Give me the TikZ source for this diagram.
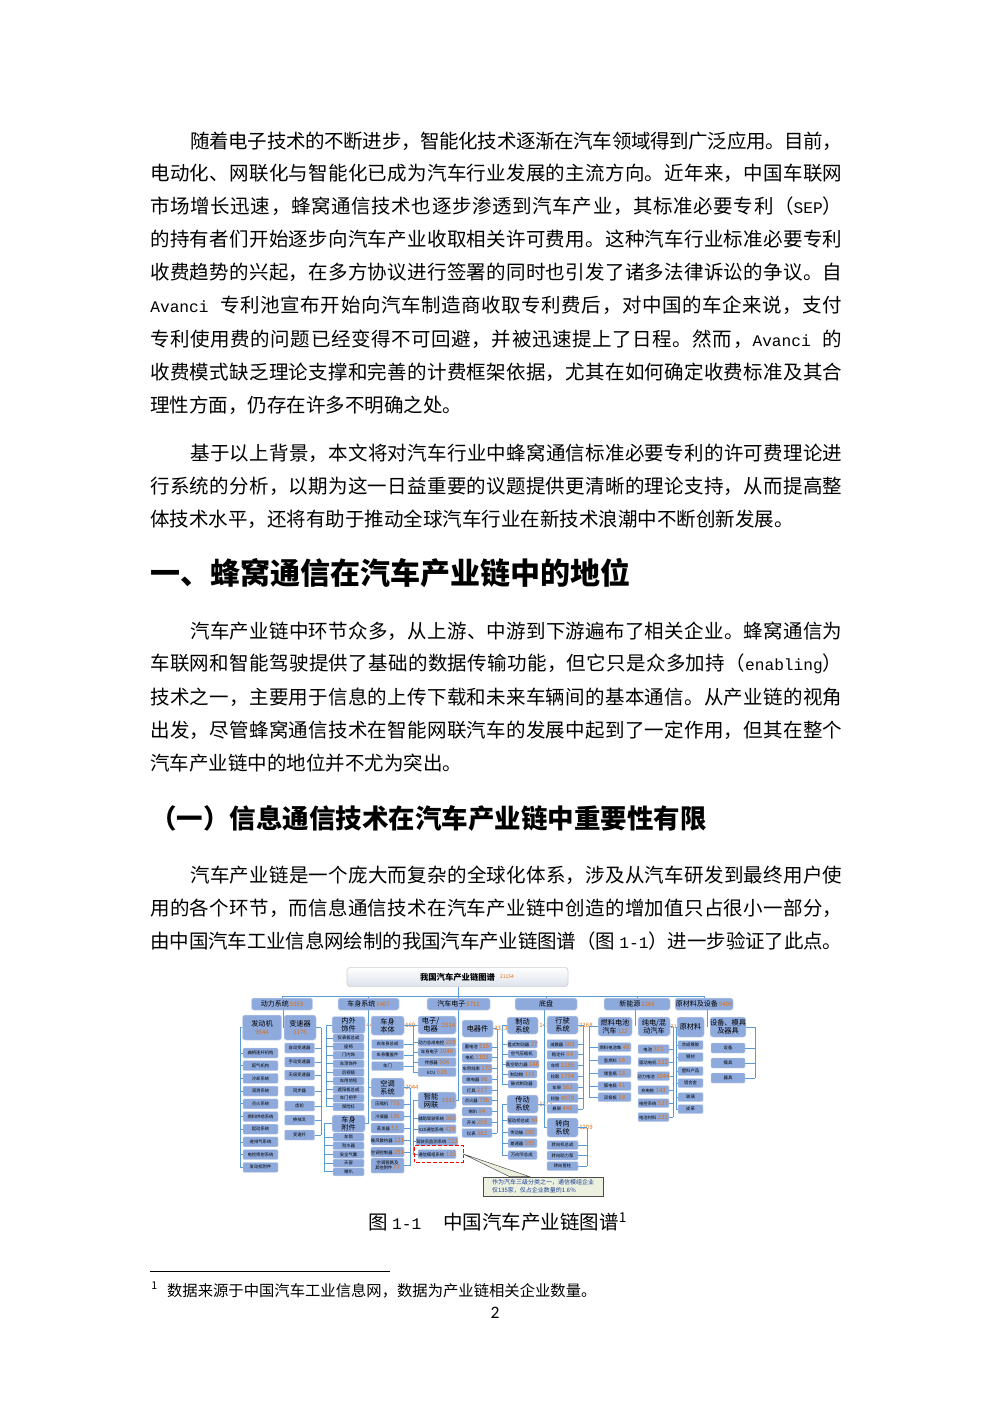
\documentclass[tikz,border=0pt]{standalone}
\usepackage{fontspec}
\setmainfont{Noto Sans CJK SC}
\newfontfamily\latmono{Liberation Mono}[Scale=0.83]
\newfontfamily\pagefont{Carlito}
\usepackage{xcolor}
\usetikzlibrary{positioning, calc}

\definecolor{boxblue}{HTML}{8EA9DB}
\definecolor{lineblue}{HTML}{5B9BD5}
\definecolor{numorange}{HTML}{E26B0A}
\definecolor{notegreen}{HTML}{EBF1DE}
\definecolor{noteblue}{HTML}{1F3D9A}
\definecolor{titlegray}{HTML}{DDE3EC}

\newdimen\pxu
\pxu=0.6pt

% glue between CJK characters, so that one line can be justified
\newXeTeXintercharclass\cjkclass
\count255="3000
\loop
  \XeTeXcharclass\count255=\cjkclass
  \advance\count255 by 1
\ifnum\count255<"A000 \repeat
\count255="FF00
\loop
  \XeTeXcharclass\count255=\cjkclass
  \advance\count255 by 1
\ifnum\count255<"FFF0 \repeat
\XeTeXinterchartokenstate=1
\newcommand\cjkglue{\hskip 0pt plus 1pt minus 0.8pt\relax}
\XeTeXinterchartoks\cjkclass\cjkclass = {\cjkglue}
\XeTeXinterchartoks\cjkclass 0 = {\cjkglue}
\XeTeXinterchartoks 0 \cjkclass = {\cjkglue}

\newcommand\fullline[1]{\hbox to 692\pxu{#1}}
\newcommand\indline[1]{\hbox to 652\pxu{#1}}
\newcommand\cntnum[1]{{\color{numorange}\fontsize{3.6pt}{4pt}\selectfont #1}}

\tikzset{
    txt/.style={anchor=west, inner sep=0pt, font=\fontsize{11.7pt}{19.8pt}\selectfont},
    secthead/.style={anchor=west, inner sep=0pt, font=\fontsize{18pt}{21pt}\selectfont\bfseries},
    subhead/.style={anchor=west, inner sep=0pt, font=\fontsize{15.9pt}{19pt}\selectfont\bfseries},
    figcap/.style={anchor=west, inner sep=0pt, font=\fontsize{11.7pt}{14pt}\selectfont},
    fnote/.style={anchor=west, inner sep=0pt, font=\fontsize{9.2pt}{11pt}\selectfont},
    titlebox/.style={rectangle, rounded corners=2pt, draw=gray!35, line width=0.4pt, top color=white, bottom color=titlegray, font=\fontsize{5pt}{6pt}\selectfont\bfseries},
    cat/.style={rectangle, rounded corners=1pt, draw=white!55!boxblue, line width=0.3pt, fill=boxblue, inner sep=0pt, minimum height=12\pxu, font=\fontsize{4.2pt}{5pt}\selectfont},
    sub/.style={rectangle, rounded corners=1.5pt, draw=white!55!boxblue, line width=0.3pt, fill=boxblue, inner sep=0pt, align=center, font=\fontsize{4.3pt}{4.8pt}\selectfont},
    leaf/.style={rectangle, rounded corners=0.6pt, draw=white!55!boxblue, line width=0.25pt, fill=boxblue, inner sep=0pt, align=center, minimum height=9\pxu, font=\fontsize{2.6pt}{3pt}\selectfont},
    num/.style={inner sep=0.4pt, text=numorange, font=\fontsize{3.6pt}{4pt}\selectfont},
    conn/.style={draw=lineblue, line width=0.45pt},
    hilite/.style={draw=red, line width=0.7pt, dash pattern=on 2.2pt off 1.2pt},
    callout/.style={rectangle, draw=gray!60!black, line width=0.4pt, fill=notegreen, align=left, text=noteblue, inner sep=1.5pt, font=\fontsize{3.6pt}{4.6pt}\selectfont}
}

\begin{document}
\begin{tikzpicture}[x=0.6pt, y=-0.6pt]
    % Page
    \fill[white] (0,0) rectangle (992,1403);
    \useasboundingbox (0,0) rectangle (992,1403);

    % Paragraph 1
    \node[txt] (a1) at (190,141) {\indline{随着电子技术的不断进步，智能化技术逐渐在汽车领域得到广泛应用。目前，}};
    \node[txt] (a2) at (150,173) {\fullline{电动化、网联化与智能化已成为汽车行业发展的主流方向。近年来，中国车联网}};
    \node[txt] (a3) at (150,206) {\fullline{市场增长迅速，蜂窝通信技术也逐步渗透到汽车产业，其标准必要专利（{\latmono SEP}）}};
    \node[txt] (a4) at (150,239) {\fullline{的持有者们开始逐步向汽车产业收取相关许可费用。这种汽车行业标准必要专利}};
    \node[txt] (a5) at (150,272) {\fullline{收费趋势的兴起，在多方协议进行签署的同时也引发了诸多法律诉讼的争议。自}};
    \node[txt] (a6) at (150,305) {\fullline{{\latmono Avanci}\hspace{12\pxu}专利池宣布开始向汽车制造商收取专利费后，对中国的车企来说，支付}};
    \node[txt] (a7) at (150,339) {\fullline{专利使用费的问题已经变得不可回避，并被迅速提上了日程。然而，{\latmono Avanci}\hspace{12\pxu}的}};
    \node[txt] (a8) at (150,372) {\fullline{收费模式缺乏理论支撑和完善的计费框架依据，尤其在如何确定收费标准及其合}};
    \node[txt] (a9) at (150,405) {理性方面，仍存在许多不明确之处。};

    % Paragraph 2
    \node[txt] (b1) at (190,453) {\indline{基于以上背景，本文将对汽车行业中蜂窝通信标准必要专利的许可费理论进}};
    \node[txt] (b2) at (150,486) {\fullline{行系统的分析，以期为这一日益重要的议题提供更清晰的理论支持，从而提高整}};
    \node[txt] (b3) at (150,519) {体技术水平，还将有助于推动全球汽车行业在新技术浪潮中不断创新发展。};

    % Section heading
    \node[secthead] (sec1) at (150,573) {一、蜂窝通信在汽车产业链中的地位};

    % Paragraph 3
    \node[txt] (c1) at (190,631) {\indline{汽车产业链中环节众多，从上游、中游到下游遍布了相关企业。蜂窝通信为}};
    \node[txt] (c2) at (150,664) {\fullline{车联网和智能驾驶提供了基础的数据传输功能，但它只是众多加持（{\latmono enabling}）}};
    \node[txt] (c3) at (150,697) {\fullline{技术之一，主要用于信息的上传下载和未来车辆间的基本通信。从产业链的视角}};
    \node[txt] (c4) at (150,730) {\fullline{出发，尽管蜂窝通信技术在智能网联汽车的发展中起到了一定作用，但其在整个}};
    \node[txt] (c5) at (150,763) {汽车产业链中的地位并不尤为突出。};

    % Subsection heading
    \node[subhead] (sec11) at (150,818) {（一）信息通信技术在汽车产业链中重要性有限};

    % Paragraph 4
    \node[txt] (d1) at (190,875) {\indline{汽车产业链是一个庞大而复杂的全球化体系，涉及从汽车研发到最终用户使}};
    \node[txt] (d2) at (150,908) {\fullline{用的各个环节，而信息通信技术在汽车产业链中创造的增加值只占很小一部分，}};
    \node[txt] (d3) at (150,941) {\fullline{由中国汽车工业信息网绘制的我国汽车产业链图谱（图 {\latmono 1-1}）进一步验证了此点。}};

    % Chart title and bus
    \node[titlebox, minimum width=221\pxu, minimum height=18\pxu] (ttl) at (457.5,977) {我国汽车产业链图谱};
    \node[num, anchor=west, font=\fontsize{3pt}{3.5pt}\selectfont] (ttlnum) at (499,977) {21154};
    \coordinate (bus) at (458,996);

    % Level 1
    \node[cat, minimum width=61\pxu] (power) at (282,1004) {动力系统\,\cntnum{5953}};
    \node[cat, minimum width=61\pxu] (bodysys) at (368.5,1004) {车身系统\,\cntnum{1467}};
    \node[cat, minimum width=63\pxu] (auto) at (458.5,1004) {汽车电子\,\cntnum{5711}};
    \node[cat, minimum width=62\pxu] (chassis) at (546,1004) {底盘};
    \node[cat, minimum width=66\pxu] (newen) at (637,1004) {新能源\,\cntnum{2268}};
    \node[cat, minimum width=58\pxu] (matequip) at (704,1004) {原材料及设备\,\cntnum{5409}};

    \draw[conn] (ttl.south -| bus) -- (bus);
    \draw[conn] (power.north |- bus) -- (matequip.north |- bus);
    \foreach \c in {power,bodysys,auto,chassis,newen,matequip}
        \draw[conn] (\c.north |- bus) -- (\c.north);

    % Level 2
    \node[sub, minimum width=39\pxu, minimum height=25\pxu] (eng) at (262,1027.5) {发动机\\\cntnum{9544}};
    \node[sub, minimum width=32\pxu, minimum height=25\pxu] (gear) at (300,1027.5) {变速器\\\cntnum{1176}};
    \node[sub, minimum width=33\pxu, minimum height=17\pxu] (trim) at (348.5,1025) {内外\\饰件};
    \node[num, right=0pt of trim] (trimn) {4442};
    \node[sub, minimum width=33\pxu, minimum height=17\pxu] (acc) at (348.5,1123.5) {车身\\附件};
    \node[sub, minimum width=33\pxu, minimum height=19\pxu] (body) at (387.5,1025.5) {车身\\本体};
    \node[num, right=0pt of body] (bodyn) {660};
    \node[sub, minimum width=33\pxu, minimum height=19\pxu] (ac) at (387.5,1087.5) {空调\\系统};
    \node[num, right=0pt of ac] (acn) {2044};
    \node[sub, minimum width=38\pxu, minimum height=18\pxu] (elec) at (437,1025) {电子/\hspace*{13\pxu}\\电器\hspace*{13\pxu}};
    \node[num, anchor=east] (elecn) at (elec.east) {2514};
    \node[sub, minimum width=38\pxu, minimum height=17\pxu] (icv) at (437,1100.5) {智能\hspace*{12\pxu}\\网联\hspace*{12\pxu}};
    \node[num, anchor=east] (icvn) at (icv.east) {1531};
    \node[sub, minimum width=31\pxu, minimum height=17\pxu] (part) at (477.5,1028.5) {电器件};
    \node[num, right=0pt of part] (partn) {3313};
    \node[sub, minimum width=31\pxu, minimum height=17\pxu] (brake) at (522.5,1025.5) {制动\\系统};
    \node[num, right=0pt of brake] (braken) {1419};
    \node[sub, minimum width=31\pxu, minimum height=18\pxu] (trans) at (522.5,1104) {传动\\系统};
    \node[num, right=0pt of trans] (transn) {1313};
    \node[sub, minimum width=31\pxu, minimum height=18\pxu] (run) at (562.5,1025) {行驶\\系统};
    \node[num, right=0pt of run] (runn) {2168};
    \node[sub, minimum width=31\pxu, minimum height=19\pxu] (steer) at (562.5,1127.5) {转向\\系统};
    \node[num, right=0pt of steer] (steern) {1209};
    \node[sub, minimum width=34\pxu, minimum height=19\pxu] (fcv) at (615,1026.5) {燃料电池\\汽车\,\cntnum{122}};
    \node[sub, minimum width=32\pxu, minimum height=19\pxu] (bev) at (654,1026.5) {纯电/混\\动汽车};
    \node[num, right=0pt of bev, font=\fontsize{3.1pt}{3.5pt}\selectfont, inner sep=0.2pt] (bevn) {2176};
    \node[sub, minimum width=27\pxu, minimum height=20\pxu] (mat) at (690.5,1027) {原材料};
    \node[sub, minimum width=34\pxu, minimum height=20\pxu] (equip) at (728,1027) {设备、模具\\及器具};

    % Level 1 to level 2
    \coordinate (powerdrop) at (283,1028);
    \coordinate (bodydrop) at (368,1123.5);
    \coordinate (autodrop) at (458,1100.5);
    \coordinate (chassisdrop) at (544,1127.5);
    \coordinate (newendrop) at (635,1026);
    \coordinate (matdrop) at (707,1027);
    \draw[conn] (power.south -| powerdrop) -- (powerdrop);
    \draw[conn] (bodysys.south -| bodydrop) -- (bodydrop) -- (acc.east);
    \draw[conn] (ac.west) -- (ac.west -| bodydrop);
    \draw[conn] (auto.south -| autodrop) -- (autodrop) -- (icv.east);
    \draw[conn] (chassis.south -| chassisdrop) -- (chassisdrop) -- (steer.west);
    \draw[conn] (trans.east) -- (trans.east -| chassisdrop);
    \draw[conn] (newen.south -| newendrop) -- (newendrop);
    \draw[conn] (matequip.south -| matdrop) -- (matdrop);

    % Engine
    \coordinate (engB) at (240,1027.5);
    \draw[conn] (eng.west) -- (engB);
    \foreach \t [count=\i] in {曲柄连杆机构,配气机构,冷却系统,润滑系统,点火系统,燃料供给系统,起动系统,进排气系统,电控喷射系统,发动机附件} {
        \node[leaf, minimum width=35\pxu, minimum height=10\pxu] (eng-\i) at (260.5,{1053+12.7*(\i-1)}) {\t};
        \draw[conn] (eng-\i.west) -- (eng-\i.west -| engB);
    }
    \draw[conn] (engB) -- (engB |- eng-10.west);

    % Gearbox
    \coordinate (gearB) at (321,1027.5);
    \draw[conn] (gear.east) -- (gearB);
    \foreach \t/\y [count=\i] in {自动变速器/1048,手动变速器/1062,无级变速器/1075,同步器/1091,齿轮/1106,换挡叉/1120,变速杆/1135} {
        \node[leaf, minimum width=30\pxu, minimum height=10\pxu] (gear-\i) at (299.5,\y) {\t};
        \draw[conn] (gear-\i.east) -- (gear-\i.east -| gearB);
    }
    \draw[conn] (gearB) -- (gearB |- gear-7.east);

    % Interior and exterior trim
    \coordinate (trimB) at (326,1025);
    \draw[conn] (trim.west) -- (trimB);
    \foreach \t [count=\i] in {仪表板总成,座椅,门内饰,车顶饰件,后视镜,车用地毯,遮阳板总成,车门把手,保险杠} {
        \node[leaf, minimum width=31\pxu, minimum height=8\pxu] (trim-\i) at (348.5,{1038+8.6*(\i-1)}) {\t};
        \draw[conn] (trim-\i.west) -- (trim-\i.west -| trimB);
    }
    \draw[conn] (trimB) -- (trimB |- trim-9.west);

    % Body accessories
    \coordinate (accB) at (324,1123.5);
    \draw[conn] (acc.west) -- (accB);
    \foreach \t [count=\i] in {车锁,刮水器,安全气囊,天窗,喇叭} {
        \node[leaf, minimum width=31\pxu, minimum height=8\pxu] (acc-\i) at (348.5,{1137+8.7*(\i-1)}) {\t};
        \draw[conn] (acc-\i.west) -- (acc-\i.west -| accB);
    }
    \draw[conn] (accB) -- (accB |- acc-5.west);

    % Body in white
    \coordinate (bodyB) at (413,1025.5);
    \draw[conn] (body.east) -- (bodyB);
    \foreach \t/\y [count=\i] in {白车身总成/1044,车身覆盖件/1055,车门/1066} {
        \node[leaf, minimum width=32\pxu] (body-\i) at (387.5,\y) {\t};
        \draw[conn] (body-\i.east) -- (body-\i.east -| bodyB);
    }
    \draw[conn] (bodyB) -- (bodyB |- body-3.east);

    % Air conditioning
    \coordinate (acB) at (410,1087.5);
    \draw[conn] (ac.east) -- (acB);
    \foreach \t/\n/\y [count=\i] in {压缩机/775/1104,冷凝器/136/1116,蒸发器/53/1128,暖风散热器/121/1140,空调控制器/251/1152} {
        \node[leaf, minimum width=33\pxu, minimum height=10\pxu] (ac-\i) at (387.5,\y) {\t\hspace{1.5\pxu}\cntnum{\n}};
        \draw[conn] (ac-\i.east) -- (ac-\i.east -| acB);
    }
    \node[leaf, minimum width=33\pxu, minimum height=15\pxu] (ac-6) at (387.5,1165.5) {空调管路及\\其他附件\,\cntnum{77}};
    \draw[conn] (ac-6.east) -- (ac-6.east -| acB);
    \draw[conn] (acB) -- (acB |- ac-6.east);

    % Electronics
    \coordinate (elecB) at (413,1025);
    \draw[conn] (elec.west) -- (elecB);
    \foreach \t/\n/\y [count=\i] in {动力总成电控/229/1042,车身电子/1046/1052,传感器/904/1062,ECU/628/1072} {
        \node[leaf, minimum width=38\pxu] (elec-\i) at (437,\y) {\t\hspace{1.5\pxu}\cntnum{\n}};
        \draw[conn] (elec-\i.west) -- (elec-\i.west -| elecB);
    }
    \draw[conn] (elecB) -- (elecB |- elec-4.west);

    % Connected vehicle
    \coordinate (icvB) at (413,1100.5);
    \draw[conn] (icv.west) -- (icvB);
    \foreach \t/\n/\y [count=\i] in {辅助驾驶系统/365/1118,V2X通信系统/425/1129,驾驶员监测系统/723/1141,通信模组系统/135/1154} {
        \node[leaf, minimum width=38\pxu] (icv-\i) at (437,\y) {\t\hspace{1.5\pxu}\cntnum{\n}};
        \draw[conn] (icv-\i.west) -- (icv-\i.west -| icvB);
    }
    \draw[conn] (icvB) -- (icvB |- icv-4.west);
    \draw[hilite] ($(icv-4.south west)+(-3,3.5)$) rectangle ($(icv-4.north east)+(7,-3.5)$);

    % Electrical parts
    \coordinate (partB) at (497,1028.5);
    \draw[conn] (part.east) -- (partB);
    \foreach \t/\n [count=\i] in {蓄电池/515,电机/1103,车用线束/172,继电器/86,灯具/217,点火器/796,喇叭/84,开关/255,仪表/362} {
        \node[leaf, minimum width=30\pxu] (part-\i) at (477,{1047+10.75*(\i-1)}) {\t\hspace{1.5\pxu}\cntnum{\n}};
        \draw[conn] (part-\i.east) -- (part-\i.east -| partB);
    }
    \draw[conn] (partB) -- (partB |- part-9.east);

    % Brakes
    \coordinate (brakeB) at (502,1025.5);
    \draw[conn] (brake.west) -- (brakeB);
    \foreach \t/\n [count=\i] in {盘式制动器/27,空气压缩机/,真空助力器/146,制动钳/113,鼓式制动器/} {
        \node[leaf, minimum width=29\pxu, minimum height=8\pxu] (brake-\i) at (522.5,{1044+10*(\i-1)}) {\t\hspace{1.5\pxu}\cntnum{\n}};
        \draw[conn] (brake-\i.west) -- (brake-\i.west -| brakeB);
    }
    \draw[conn] (brakeB) -- (brakeB |- brake-5.west);

    % Driveline
    \coordinate (transB) at (502,1104);
    \draw[conn] (trans.west) -- (transB);
    \foreach \t/\n/\y [count=\i] in {驱动桥总成/34/1120,传动轴/280/1132,差速器/595/1143,万向节总成//1155} {
        \node[leaf, minimum width=29\pxu] (trans-\i) at (522.5,\y) {\t\hspace{1.5\pxu}\cntnum{\n}};
        \draw[conn] (trans-\i.west) -- (trans-\i.west -| transB);
    }
    \draw[conn] (transB) -- (transB |- trans-4.west);

    % Running gear
    \coordinate (runB) at (583,1025);
    \draw[conn] (run.east) -- (runB);
    \foreach \t/\n [count=\i] in {减震器/563,稳定杆/84,车桥/1185,轮毂/1794,车架/562,轮胎/4079,悬架/446} {
        \node[leaf, minimum width=31\pxu] (run-\i) at (562.5,{1044+10.83*(\i-1)}) {\t\hspace{1.5\pxu}\cntnum{\n}};
        \draw[conn] (run-\i.east) -- (run-\i.east -| runB);
    }
    \draw[conn] (runB) -- (runB |- run-7.east);

    % Steering
    \coordinate (steerB) at (587,1127.5);
    \draw[conn] (steer.east) -- (steerB);
    \foreach \t/\y [count=\i] in {转向机总成/1145,转向助力泵/1155.5,转向管柱/1166} {
        \node[leaf, minimum width=31\pxu] (steer-\i) at (562.5,\y) {\t};
        \draw[conn] (steer-\i.east) -- (steer-\i.east -| steerB);
    }
    \draw[conn] (steerB) -- (steerB |- steer-3.east);

    % Fuel cell vehicles
    \coordinate (fcvB) at (589,1026.5);
    \draw[conn] (fcv.west) -- (fcvB);
    \foreach \t/\n/\y [count=\i] in {燃料电池堆/48/1047,氢燃料/16/1060,储氢瓶/13/1073,膜电极/41/1086,双极板/18/1097} {
        \node[leaf, minimum width=33\pxu] (fcv-\i) at (614.5,\y) {\t\hspace{1.5\pxu}\cntnum{\n}};
        \draw[conn] (fcv-\i.west) -- (fcv-\i.west -| fcvB);
    }
    \draw[conn] (fcvB) -- (fcvB |- fcv-5.west);

    % Battery and hybrid vehicles
    \coordinate (bevB) at (673,1026.5);
    \draw[conn] (bev.east) -- (bevB);
    \foreach \t/\n/\y [count=\i] in {电池/372/1049,驱动电机/512/1062,动力电池/1044/1076,充电桩/143/1090,电控系统/537/1103,电池材料/232/1117} {
        \node[leaf, minimum width=31\pxu] (bev-\i) at (653.5,\y) {\t\hspace{1.5\pxu}\cntnum{\n}};
        \draw[conn] (bev-\i.east) -- (bev-\i.east -| bevB);
    }
    \draw[conn] (bevB) -- (bevB |- bev-6.east);

    % Raw materials
    \coordinate (matB) at (676,1027);
    \draw[conn] (mat.west) -- (matB);
    \foreach \t/\y [count=\i] in {合成橡胶/1045,钢材/1057,塑料产品/1071,铝合金/1083,玻璃/1097,皮革/1109} {
        \node[leaf, minimum width=25\pxu] (mat-\i) at (690.5,\y) {\t};
        \draw[conn] (mat-\i.west) -- (mat-\i.west -| matB);
    }
    \draw[conn] (matB) -- (matB |- mat-6.west);

    % Equipment
    \coordinate (equipB) at (755,1027);
    \draw[conn] (equip.east) -- (equipB);
    \foreach \t/\y [count=\i] in {设备/1048,模具/1063,器具/1078} {
        \node[leaf, minimum width=34\pxu, minimum height=10\pxu] (equip-\i) at (728,\y) {\t};
        \draw[conn] (equip-\i.east) -- (equip-\i.east -| equipB);
    }
    \draw[conn] (equipB) -- (equipB |- equip-3.east);

    % Callout
    \coordinate (tip) at ($(icv-4.east)+(7,0)$);
    \node[callout, minimum width=120\pxu, minimum height=19\pxu] (note) at (543,1186.5) {作为汽车三级分类之一，通信模组企业\\仅135家，仅占企业数量的1.6\%};
    \filldraw[fill=notegreen, draw=gray!60!black, line width=0.3pt] (tip) -- ($(note.north west)+(27,0)$) -- ($(note.north west)+(47,0)$) -- cycle;

    % Caption
    \node[figcap] (cap) at (368,1222) {图 {\latmono 1-1}\hspace{22\pxu}中国汽车产业链图谱\textsuperscript{1}};

    % Footnote
    \draw[black, line width=0.5pt] (150,1271) -- (390,1271);
    \node[fnote] (fn) at (151,1290) {\textsuperscript{1}\hspace{9\pxu}数据来源于中国汽车工业信息网，数据为产业链相关企业数量。};

    % Page number
    \node[font=\pagefont\fontsize{10.5pt}{12pt}\selectfont] (pgno) at (495,1313) {2};
\end{tikzpicture}
\end{document}
